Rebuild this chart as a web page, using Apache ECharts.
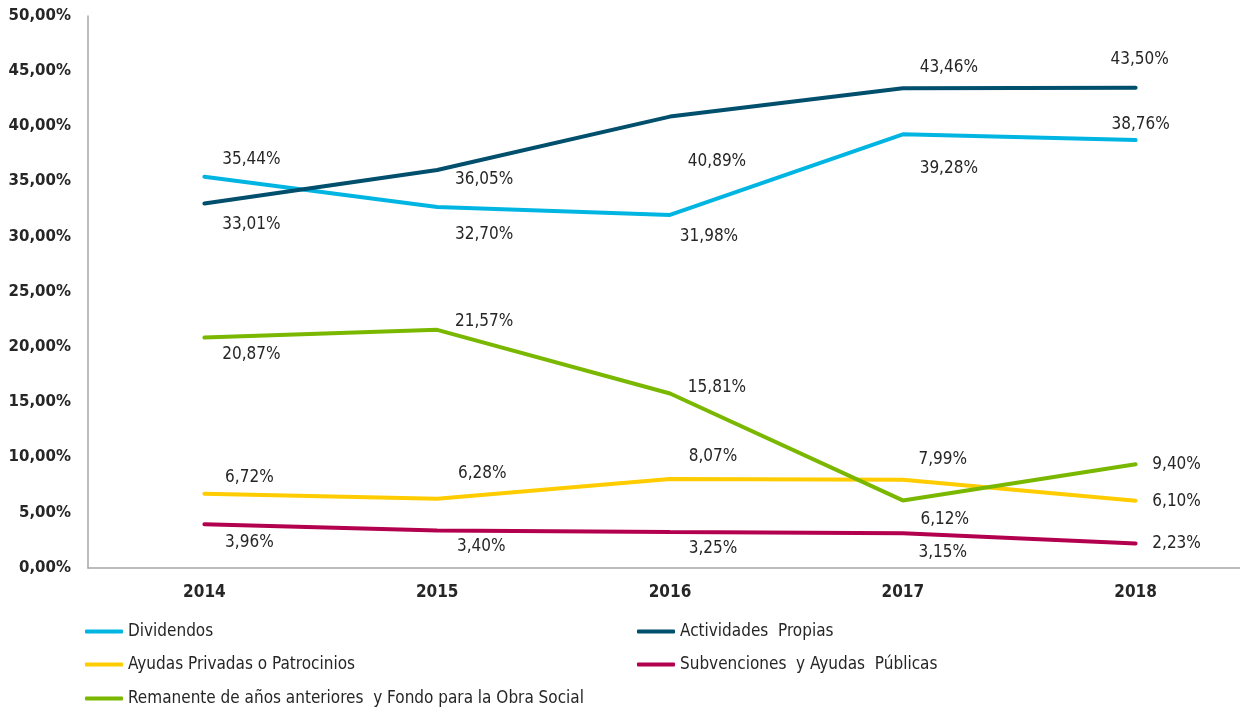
<!DOCTYPE html>
<html>
<head>
<meta charset="utf-8">
<script src="https://cdn.jsdelivr.net/npm/echarts@6/dist/echarts.min.js"></script>
<style>
  html, body { margin: 0; padding: 0; background: #fff; overflow: hidden; }
  #chart { width: 1252px; height: 711px; }
</style>
</head>
<body>
<div id="chart"></div>
<script>
const years = ['2014', '2015', '2016', '2017', '2018'];
const dividendos = [35.44, 32.70, 31.98, 39.28, 38.76];
const actividadesPropias = [33.01, 36.05, 40.89, 43.46, 43.50];
const ayudasPrivadas = [6.72, 6.28, 8.07, 7.99, 6.10];
const subvenciones = [3.96, 3.40, 3.25, 3.15, 2.23];
const remanente = [20.87, 21.57, 15.81, 6.12, 9.40];

const seriesNames = [
  'Dividendos',
  'Actividades  Propias',
  'Ayudas Privadas o Patrocinios',
  'Subvenciones  y Ayudas  Públicas',
  'Remanente de años anteriores  y Fondo para la Obra Social',
];

// label offsets from each point (layout only)
const labelOffsets = {
  dividendos: [[47, -17], [47, 28], [39, 22], [46, 34], [5, -16]],
  actividadesPropias: [[47, 21], [47, 10], [47, 45], [46, -21], [4, -28]],
  ayudasPrivadas: [[45, -16], [45, -25], [43, -22], [40, -20], [41, 1]],
  subvenciones: [[45, 18], [44, 16], [43, 16], [40, 19], [41, 0]],
  remanente: [[47, 17], [47, -8], [47, -6], [42, 19], [41, 0]],
};

const colors = ['#00B5E2', '#004F6C', '#FFCC00', '#B3004E', '#7AB800'];

const fmt = (v) => v.toFixed(2).replace('.', ',') + '%';

const chart = echarts.init(document.getElementById('chart'));

function buildSeries(name, values, offsets, color) {
  return {
    name: name,
    type: 'line',
    symbol: 'circle',
    symbolSize: 0.01,
    showSymbol: true,
    color: color,
    itemStyle: { color: color },
    lineStyle: { width: 4, color: color, cap: 'round' },
    emphasis: { disabled: true },
    z: 2,
    data: values.map((v, i) => ({
      value: v,
      label: { offset: offsets[i] },
    })),
    label: {
      show: true,
      position: 'inside',
      formatter: (p) => fmt(p.value),
      fontFamily: 'DejaVu Sans Condensed',
      fontSize: 17,
      color: '#262626',
    },
  };
}

function legendAt(name, left, top) {
  return {
    data: [name],
    left: left,
    top: top,
    padding: 0,
    orient: 'horizontal',
    icon: 'roundRect',
    itemWidth: 38,
    itemHeight: 4,
    selectedMode: false,
    textStyle: {
      fontFamily: 'DejaVu Sans Condensed',
      fontSize: 17,
      color: '#262626',
    },
  };
}

chart.setOption({
  animation: false,
  grid: {
    left: 88,
    right: 0,
    top: 16,
    bottom: 143,
  },
  legend: [
    legendAt(seriesNames[0], 85, 623),
    legendAt(seriesNames[1], 637, 623),
    legendAt(seriesNames[2], 85, 656),
    legendAt(seriesNames[3], 637, 656),
    legendAt(seriesNames[4], 85, 690),
  ],
  xAxis: {
    type: 'category',
    data: years,
    boundaryGap: true,
    axisLine: { lineStyle: { color: '#A6A6A6', width: 1.5 } },
    axisTick: { show: false },
    axisLabel: {
      margin: 16,
      fontFamily: 'DejaVu Sans Condensed',
      fontWeight: 'bold',
      fontSize: 17,
      color: '#262626',
    },
  },
  yAxis: {
    type: 'value',
    min: 0,
    max: 50,
    interval: 5,
    axisLine: { show: true, lineStyle: { color: '#A6A6A6', width: 1.5 } },
    axisTick: { show: false },
    splitLine: { show: false },
    axisLabel: {
      margin: 17,
      formatter: (v) => fmt(v),
      fontFamily: 'DejaVu Sans',
      fontWeight: 'bold',
      fontSize: 15,
      color: '#262626',
    },
  },
  series: [
    buildSeries(seriesNames[0], dividendos, labelOffsets.dividendos, colors[0]),
    buildSeries(seriesNames[1], actividadesPropias, labelOffsets.actividadesPropias, colors[1]),
    buildSeries(seriesNames[2], ayudasPrivadas, labelOffsets.ayudasPrivadas, colors[2]),
    buildSeries(seriesNames[3], subvenciones, labelOffsets.subvenciones, colors[3]),
    buildSeries(seriesNames[4], remanente, labelOffsets.remanente, colors[4]),
  ],
});
</script>
</body>
</html>
